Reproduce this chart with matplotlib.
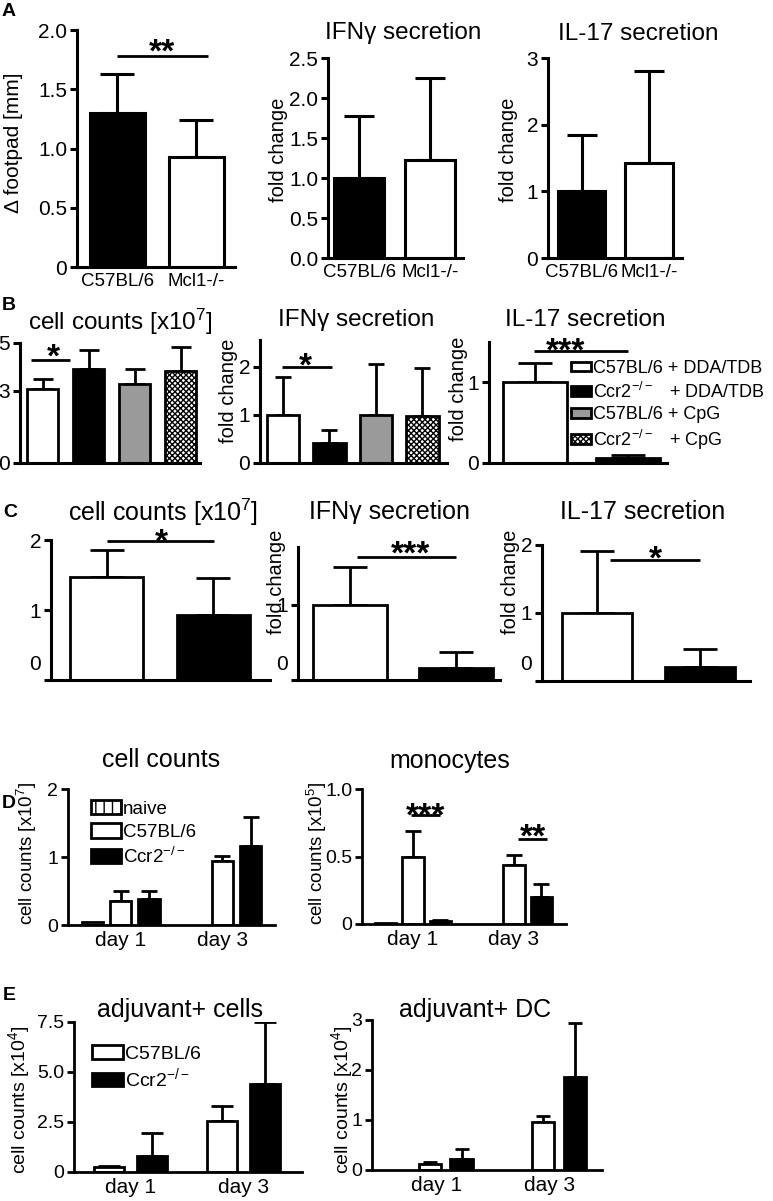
import numpy as np
import matplotlib
matplotlib.use('Agg')
import matplotlib.pyplot as plt
from matplotlib.patches import Patch
from matplotlib.transforms import ScaledTranslation

plt.rcParams['font.family'] = ['Liberation Sans', 'DejaVu Sans']
plt.rcParams['mathtext.fontset'] = 'custom'
plt.rcParams['mathtext.rm'] = 'Liberation Sans'
plt.rcParams['mathtext.it'] = 'Liberation Sans:italic'
plt.rcParams['mathtext.bf'] = 'Liberation Sans:bold'
plt.rcParams['hatch.linewidth'] = 1.0

# ---------------- data ----------------
# Panel A
a_groups = ['C57BL/6', 'Mcl1-/-']
a_footpad = [1.30, 0.93]
a_footpad_err = [0.33, 0.31]
a_ifng = [1.00, 1.23]
a_ifng_err = [0.78, 1.02]
a_il17 = [1.00, 1.43]
a_il17_err = [0.85, 1.37]

# Panel B
b_groups = ['C57BL/6 + DDA/TDB', 'Ccr2$^{-/-}$   + DDA/TDB',
            'C57BL/6 + CpG', 'Ccr2$^{-/-}$   + CpG']
b_counts = [3.08, 3.90, 3.30, 3.83]
b_counts_err = [0.42, 0.80, 0.60, 1.00]
b_ifng = [1.00, 0.42, 1.00, 0.98]
b_ifng_err = [0.79, 0.27, 1.06, 0.98]
b_il17 = [1.00, 0.06]
b_il17_err = [0.24, 0.04]

# Panel C
c_counts = [1.47, 0.93]
c_counts_err = [0.39, 0.53]
c_ifng = [1.00, 0.16]
c_ifng_err = [0.50, 0.21]
c_il17 = [1.00, 0.20]
c_il17_err = [0.91, 0.27]

# Panel D
days = ['day 1', 'day 3']
d_series = ['naive', 'C57BL/6', 'Ccr2$^{-/-}$']
d_counts_naive = [0.04, 0.0]
d_counts_wt = [0.35, 0.94]
d_counts_wt_err = [0.15, 0.07]
d_counts_ko = [0.38, 1.16]
d_counts_ko_err = [0.12, 0.43]
d_mono_naive = [0.006, 0.0]
d_mono_wt = [0.50, 0.44]
d_mono_wt_err = [0.19, 0.07]
d_mono_ko = [0.02, 0.20]
d_mono_ko_err = [0.01, 0.10]

# Panel E
e_series = ['C57BL/6', 'Ccr2$^{-/-}$']
e_cells_wt = [0.25, 2.55]
e_cells_wt_err = [0.05, 0.75]
e_cells_ko = [0.80, 4.40]
e_cells_ko_err = [1.15, 3.10]
e_dc_wt = [0.12, 0.96]
e_dc_wt_err = [0.04, 0.12]
e_dc_ko = [0.22, 1.86]
e_dc_ko_err = [0.20, 1.08]

# ---------------- helpers ----------------
W, H = 773, 1201
fig = plt.figure(figsize=(W / 100, H / 100), dpi=100)


def px_axes(l, r, t, b):
    return fig.add_axes([l / W, 1 - b / H, (r - l) / W, (b - t) / H])


def style(ax, lw=2.2, fs=14):
    for s in ['top', 'right']:
        ax.spines[s].set_visible(False)
    for s in ['left', 'bottom']:
        ax.spines[s].set_linewidth(lw)
    ax.tick_params(axis='y', length=5, width=lw, labelsize=fs, pad=2)
    ax.tick_params(axis='x', length=0, labelsize=fs, pad=4)
    ax.patch.set_alpha(0)


def bars(ax, xs, vals, errs, width, colors, hatches, cap, lw=2.0):
    for x, v, e, c, h in zip(xs, vals, errs, colors, hatches):
        if v <= 0:
            continue
        ax.bar(x, v, width, color=c, edgecolor='black', linewidth=lw,
               hatch=h, zorder=2)
        if e > 0:
            ax.errorbar(x, v, yerr=[[0], [e]], fmt='none', ecolor='black',
                        elinewidth=lw, capsize=cap, capthick=lw, zorder=1)


def sig(ax, x0, x1, y, stars, xs, ys, fs=24):
    ax.plot([x0, x1], [y, y], color='black', lw=2.0, clip_on=False,
            solid_capstyle='butt')
    off = ScaledTranslation(0, -0.56 * fs / 72, fig.dpi_scale_trans)
    ax.text(xs, ys, stars, ha='center', va='baseline', fontsize=fs,
            fontweight='bold', clip_on=False, transform=ax.transData + off)


def ftext(x, y, s, fs=17.5, rot=0, **kw):
    fig.text(x / W, 1 - y / H, s, fontsize=fs, rotation=rot, ha='center',
             va='center', **kw)


def raise_zero(ax, dy_px):
    for lab in ax.get_yticklabels():
        if lab.get_text() == '0':
            lab.set_transform(lab.get_transform() +
                              ScaledTranslation(0, dy_px / 100, fig.dpi_scale_trans))


# ---------------- Panel A ----------------
a_colors = ['black', 'white']
a_hatch = [None, None]
xA = np.arange(len(a_groups))

ax = px_axes(77, 235, 30, 267)
bars(ax, xA, a_footpad, a_footpad_err, 0.7, a_colors, a_hatch, cap=12, lw=2.2)
ax.set_xlim(-0.51, 1.49)
ax.set_ylim(0, 2.0)
ax.set_yticks([0, 0.5, 1.0, 1.5, 2.0])
ax.set_yticklabels(['0', '0.5', '1.0', '1.5', '2.0'])
ax.set_xticks(xA)
ax.set_xticklabels(a_groups)
style(ax, fs=15)
ax.tick_params(axis='x', labelsize=13.5)
sig(ax, 0.0, 1.15, 1.78, '**', 0.56, 1.89)
ftext(14, 143, '\u0394 footpad [mm]', fs=15, rot=90)

ax = px_axes(328, 463, 58, 258)
bars(ax, xA, a_ifng, a_ifng_err, 0.7, a_colors, a_hatch, cap=11, lw=2.2)
ax.set_xlim(-0.44, 1.46)
ax.set_ylim(0, 2.5)
ax.set_yticks([0, 0.5, 1.0, 1.5, 2.0, 2.5])
ax.set_yticklabels(['0.0', '0.5', '1.0', '1.5', '2.0', '2.5'])
ax.set_xticks(xA)
ax.set_xticklabels(a_groups)
style(ax, fs=15)
ax.tick_params(axis='x', labelsize=13.5)
ftext(403, 33, 'IFN\u03b3 secretion')
ftext(278, 150, 'fold change', fs=14.5, rot=90)

ax = px_axes(548, 682, 58, 258)
bars(ax, xA, a_il17, a_il17_err, 0.7, a_colors, a_hatch, cap=11, lw=2.2)
ax.set_xlim(-0.5, 1.49)
ax.set_ylim(0, 3)
ax.set_yticks([0, 1, 2, 3])
ax.set_xticks(xA)
ax.set_xticklabels(a_groups)
style(ax, fs=15)
ax.tick_params(axis='x', labelsize=13.5)
ftext(638, 34, 'IL-17 secretion')
ftext(508, 150, 'fold change', fs=14.5, rot=90)

# ---------------- Panel B ----------------
b_colors = ['white', 'black', '#9a9a9a', 'white']
b_hatch = [None, None, None, 'xxxxxx']
xB = np.arange(len(b_groups))

ax = px_axes(20, 200, 343, 463)
bars(ax, xB, b_counts, b_counts_err, 0.68, b_colors, b_hatch, cap=7, lw=2.0)
ax.set_xlim(-0.49, 3.42)
ax.set_ylim(0, 5)
ax.set_yticks([0, 3, 5])
ax.set_xticks([])
style(ax, fs=15)
sig(ax, -0.25, 0.6, 4.29, '*', 0.23, 4.79)
ftext(120, 322, 'cell counts [x10$^{7}$]')

ax = px_axes(260, 447, 340, 463)
bars(ax, xB, b_ifng, b_ifng_err, 0.7, b_colors, b_hatch, cap=6, lw=2.0)
ax.set_xlim(-0.49, 3.53)
ax.set_ylim(0, 2.55)
ax.set_yticks([0, 1, 2])
ax.set_xticks([])
style(ax, fs=15)
sig(ax, -0.02, 1.05, 1.98, '*', 0.49, 2.19)
ftext(356, 320, 'IFN\u03b3 secretion')
ftext(229, 391, 'fold change', fs=14.5, rot=90)

ax = px_axes(489, 667, 342, 463)
bars(ax, xB[:2], b_il17, b_il17_err, 0.69, b_colors[:2], b_hatch[:2], cap=12, lw=2.0)
ax.set_xlim(-0.49, 1.42)
ax.set_ylim(0, 1.5)
ax.set_yticks([0, 1])
ax.set_xticks([])
style(ax, fs=15)
sig(ax, -0.01, 1.0, 1.39, '***', 0.33, 1.5)
ftext(585, 320, 'IL-17 secretion')
ftext(458, 389, 'fold change', fs=14.5, rot=90)

b_handles = [Patch(facecolor=c, edgecolor='black', linewidth=2.0, hatch=h)
             for c, h in zip(b_colors, b_hatch)]
fig.legend(b_handles, b_groups, loc='upper left',
           bbox_to_anchor=(571 / W, 1 - 360 / H), frameon=False,
           fontsize=13, handlelength=1.1, handleheight=0.45,
           handletextpad=0.1, labelspacing=0.25, borderpad=0,
           borderaxespad=0)

# ---------------- Panel C ----------------
c_colors = ['white', 'black']
c_hatch = [None, None]
xC = np.arange(2)

ax = px_axes(51, 270, 540, 680)
bars(ax, xC, c_counts, c_counts_err, 0.68, c_colors, c_hatch, cap=12, lw=2.0)
ax.set_xlim(-0.52, 1.53)
ax.set_ylim(0, 2)
ax.set_yticks([0, 1, 2])
ax.set_xticks([])
style(ax, fs=15)
raise_zero(ax, 18)
sig(ax, 0.0, 1.01, 1.99, '*', 0.51, 2.1)
ftext(163, 512, 'cell counts [x10$^{7}$]', fs=18)

ax = px_axes(298, 500, 547, 680)
bars(ax, xC, c_ifng, c_ifng_err, 0.7, c_colors, c_hatch, cap=12, lw=2.0)
ax.set_xlim(-0.49, 1.415)
ax.set_ylim(0, 1.77)
ax.set_yticks([0, 1])
ax.set_xticks([])
style(ax, fs=15)
raise_zero(ax, 18)
sig(ax, 0.07, 1.0, 1.64, '***', 0.57, 1.8)
ftext(390, 512, 'IFN\u03b3 secretion', fs=18)
ftext(276, 582, 'fold change', fs=14.5, rot=90)

ax = px_axes(542, 750, 545, 681)
bars(ax, xC, c_il17, c_il17_err, 0.68, c_colors, c_hatch, cap=12, lw=2.0)
ax.set_xlim(-0.54, 1.49)
ax.set_ylim(0, 2)
ax.set_yticks([0, 1, 2])
ax.set_xticks([])
style(ax, fs=15)
raise_zero(ax, 18)
sig(ax, 0.12, 1.0, 1.78, '*', 0.57, 1.93)
ftext(643, 512, 'IL-17 secretion', fs=18)
ftext(510, 582, 'fold change', fs=14.5, rot=90)

# ---------------- Panel D ----------------
d_colors = ['white', 'white', 'black']
d_hatch = ['||', None, None]
xD = np.arange(len(days))

ax = px_axes(68, 275, 789, 925)
off, wd = 0.275, 0.215
bars(ax, xD - off, d_counts_naive, [0, 0], wd, [d_colors[0]] * 2, [d_hatch[0]] * 2, cap=6, lw=2.0)
bars(ax, xD, d_counts_wt, d_counts_wt_err, wd, [d_colors[1]] * 2, [None] * 2, cap=6, lw=2.0)
bars(ax, xD + off, d_counts_ko, d_counts_ko_err, wd, [d_colors[2]] * 2, [None] * 2, cap=6, lw=2.0)
ax.set_xlim(-0.515, 1.515)
ax.set_ylim(0, 2)
ax.set_yticks([0, 1, 2])
ax.set_xticks(xD)
ax.set_xticklabels(days)
style(ax, lw=2.0, fs=14)
ax.tick_params(axis='x', labelsize=15)
ftext(161, 760, 'cell counts', fs=18)
ftext(27, 853, 'cell counts [x10$^{7}$]', fs=13.5, rot=90)
d_handles = [Patch(facecolor=c, edgecolor='black', linewidth=2.0, hatch=h)
             for c, h in zip(d_colors, d_hatch)]
ax.legend(d_handles, d_series, loc='upper left',
          bbox_to_anchor=(91 / W, 1 - 800 / H), bbox_transform=fig.transFigure,
          frameon=False, fontsize=13.5, handlelength=1.6, handleheight=0.8,
          handletextpad=0.1, labelspacing=0.3, borderpad=0, borderaxespad=0)

ax = px_axes(362, 566, 789, 924)
off, wd = 0.27, 0.21
bars(ax, xD - off, d_mono_naive, [0, 0], wd, [d_colors[0]] * 2, [d_hatch[0]] * 2, cap=6, lw=2.0)
bars(ax, xD, d_mono_wt, d_mono_wt_err, wd, [d_colors[1]] * 2, [None] * 2, cap=6, lw=2.0)
bars(ax, xD + off, d_mono_ko, d_mono_ko_err, wd, [d_colors[2]] * 2, [None] * 2, cap=6, lw=2.0)
ax.set_xlim(-0.505, 1.515)
ax.set_ylim(0, 1.0)
ax.set_yticks([0, 0.5, 1.0])
ax.set_yticklabels(['0', '0.5', '1.0'])
ax.set_xticks(xD)
ax.set_xticklabels(days)
style(ax, lw=2.0, fs=14)
ax.tick_params(axis='x', labelsize=15)
sig(ax, -0.02, 0.27, 0.81, '***', 0.12, 0.87)
sig(ax, 1.04, 1.33, 0.63, '**', 1.19, 0.71)
ftext(450, 761, 'monocytes', fs=18)
ftext(317, 853, 'cell counts [x10$^{5}$]', fs=13.5, rot=90)

# ---------------- Panel E ----------------
e_colors = ['white', 'black']
xE = np.arange(len(days))

ax = px_axes(74, 302, 1022, 1172)
off, wd = 0.19, 0.27
bars(ax, xE - off, e_cells_wt, e_cells_wt_err, wd, ['white'] * 2, [None] * 2, cap=8, lw=2.0)
bars(ax, xE + off, e_cells_ko, e_cells_ko_err, wd, ['black'] * 2, [None] * 2, cap=8, lw=2.0)
ax.set_xlim(-0.5, 1.52)
ax.set_ylim(0, 7.5)
ax.set_yticks([0, 2.5, 5.0, 7.5])
ax.set_yticklabels(['0', '2.5', '5.0', '7.5'])
ax.set_xticks(xE)
ax.set_xticklabels(days)
style(ax, lw=2.0, fs=14)
ax.tick_params(axis='x', labelsize=15)
ftext(180, 1010, 'adjuvant+ cells', fs=18)
ftext(19, 1100, 'cell counts [x10$^{4}$]', fs=14, rot=90)
e_handles = [Patch(facecolor=c, edgecolor='black', linewidth=2.0) for c in e_colors]
ax.legend(e_handles, e_series, loc='upper left',
          bbox_to_anchor=(92 / W, 1 - 1045 / H), bbox_transform=fig.transFigure,
          frameon=False, fontsize=14, handlelength=1.6, handleheight=0.7,
          handletextpad=0.1, labelspacing=0.2, borderpad=0, borderaxespad=0)

ax = px_axes(372, 602, 1020, 1170)
off, wd = 0.14, 0.195
bars(ax, xE - off, e_dc_wt, e_dc_wt_err, wd, ['white'] * 2, [None] * 2, cap=5, lw=2.0)
bars(ax, xE + off, e_dc_ko, e_dc_ko_err, wd, ['black'] * 2, [None] * 2, cap=5, lw=2.0)
ax.set_xlim(-0.65, 1.38)
ax.set_ylim(0, 3)
ax.set_yticks([0, 1, 2, 3])
ax.set_xticks(xE - 0.08)
ax.set_xticklabels(days)
style(ax, lw=2.0, fs=14)
ax.tick_params(axis='x', labelsize=15)
ftext(475, 1010, 'adjuvant+ DC', fs=18)
ftext(342, 1100, 'cell counts [x10$^{4}$]', fs=14, rot=90)

# ---------------- panel letters ----------------
for letter, (lx, ly) in zip('ABCDE', [(9, 12), (9, 305), (10, 512), (9, 803), (9, 995)]):
    ftext(lx, ly, letter, fs=14, fontweight='bold')

fig.savefig('out.png', dpi=100)
